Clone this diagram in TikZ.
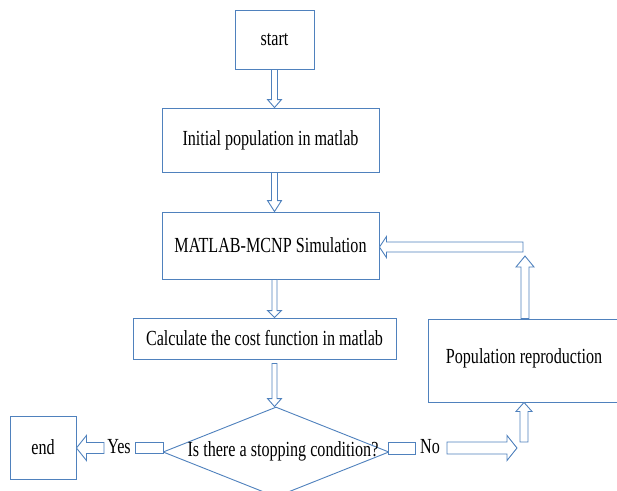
\documentclass[tikz,border=0pt]{standalone}
\usepackage{fontspec}
\setmainfont[FakeStretch=0.75]{Liberation Serif}
\usetikzlibrary{shapes.geometric,calc}
\definecolor{lineblue}{HTML}{4F81BD}
\tikzset{
  box/.style={draw=lineblue, line width=0.9pt, fill=white, inner sep=0pt},
  blk/.style={draw=lineblue, line width=0.9pt, fill=white, line join=miter},
  txt/.style={font=\fontsize{21.5}{24}\selectfont, text=black}
}
% block arrows: #1 start, #2 tip, #3 half shaft, #4 half head, #5 head length
\newcommand\dnarr[5]{\draw[blk] let \p1=#1, \p2=#2 in
  (\x1-#3,\y1) -- (\x1-#3,\y2+#5) -- (\x1-#4,\y2+#5) -- (\x1,\y2) -- (\x1+#4,\y2+#5) -- (\x1+#3,\y2+#5) -- (\x1+#3,\y1) -- cycle;}
\newcommand\uparr[5]{\draw[blk] let \p1=#1, \p2=#2 in
  (\x1-#3,\y1) -- (\x1-#3,\y2-#5) -- (\x1-#4,\y2-#5) -- (\x1,\y2) -- (\x1+#4,\y2-#5) -- (\x1+#3,\y2-#5) -- (\x1+#3,\y1) -- cycle;}
\newcommand\lfarr[5]{\draw[blk] let \p1=#1, \p2=#2 in
  (\x1,\y1-#3) -- (\x2+#5,\y1-#3) -- (\x2+#5,\y1-#4) -- (\x2,\y1) -- (\x2+#5,\y1+#4) -- (\x2+#5,\y1+#3) -- (\x1,\y1+#3) -- cycle;}
\newcommand\rtarr[5]{\draw[blk] let \p1=#1, \p2=#2 in
  (\x1,\y1-#3) -- (\x2-#5,\y1-#3) -- (\x2-#5,\y1-#4) -- (\x2,\y1) -- (\x2-#5,\y1+#4) -- (\x2-#5,\y1+#3) -- (\x1,\y1+#3) -- cycle;}
\begin{document}
\begin{tikzpicture}[x=1pt,y=-1pt]
\useasboundingbox (0,0) rectangle (617,490);

\node[box, txt, minimum width=79pt, minimum height=59pt] (start) at (274.5,39.5) {start};
\node[box, txt, minimum width=217pt, minimum height=64pt] (init) at (270.5,140) {Initial population in matlab};
\node[box, txt, minimum width=217pt, minimum height=67pt] (sim) at (270.5,245.5) {MATLAB-MCNP Simulation};
\node[box, txt, minimum width=263pt, minimum height=41pt] (calc) at (264.5,338.5) {Calculate the cost function in matlab};
\node[box, diamond, minimum width=226pt, minimum height=90pt] (dec) at (276,452) {};
\node[txt] (dectext) at (283,451) {Is there a stopping condition?};
\node[box, txt, minimum width=66pt, minimum height=63pt] (end) at (43,447.5) {end};
\node[box, txt, minimum width=192pt, minimum height=83pt] (pop) at (524,360.5) {};
\node[txt] (poptext) at (524,358) {Population reproduction};

\node[box, minimum width=28pt, minimum height=11pt] (yesrect) at (149,447.5) {};
\node[box, minimum width=27pt, minimum height=12pt] (norect) at (401.5,448) {};
\node[txt] (yes) at (119,447) {Yes};
\node[txt] (no) at (430,447) {No};

\coordinate (yesstart) at (104,448);
\coordinate (nostart) at (447,448);
\coordinate (notip) at (517,448);
\coordinate (upstart) at (524,442);
\coordinate (fbtip) at (525,256);
\coordinate (fbstart) at (523,247);

\dnarr{(start.south)}{(start |- init.north)}{3pt}{7pt}{8pt}
\dnarr{(start |- init.south)}{(start |- sim.north)}{3pt}{7pt}{11pt}
\dnarr{(start |- sim.south)}{(start |- calc.north)}{2.5pt}{7pt}{7pt}
\dnarr{($(start |- calc.south)+(0,4)$)}{(start |- dec.north)}{2.5pt}{7pt}{8pt}
\lfarr{(yesstart)}{(end.east)}{5.5pt}{12.5pt}{10pt}
\rtarr{(nostart)}{(notip)}{6pt}{12.5pt}{10pt}
\uparr{(upstart)}{(pop.south)}{4pt}{8pt}{9pt}
\uparr{($(pop.north)+(1,0)$)}{(fbtip)}{4pt}{9pt}{11pt}
\lfarr{(fbstart)}{(sim.east |- fbstart)}{5pt}{10.5pt}{7pt}
\end{tikzpicture}
\end{document}
